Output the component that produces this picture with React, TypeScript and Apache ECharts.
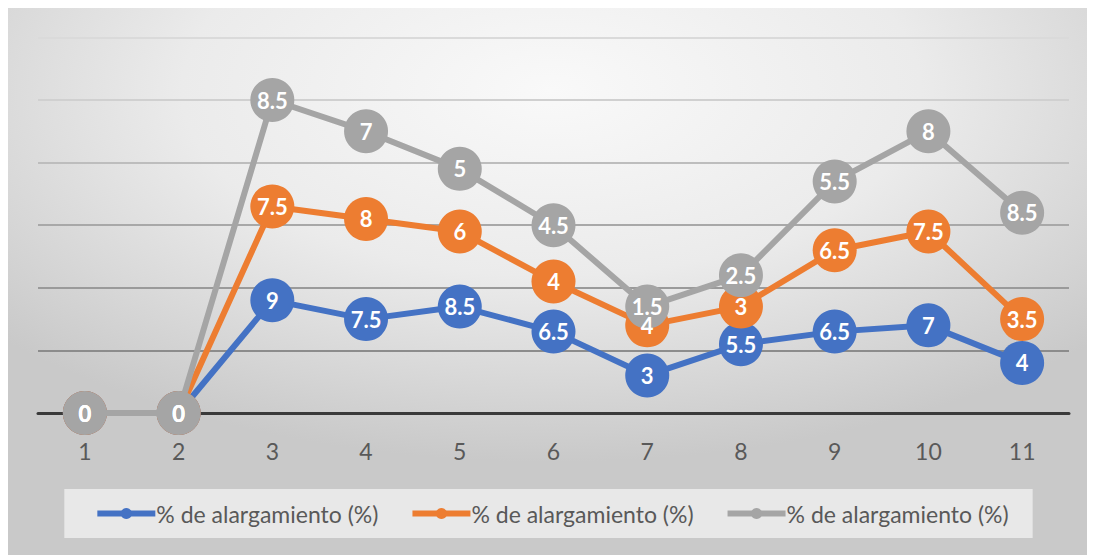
import React, { useEffect, useRef } from "react";
import * as echarts from "echarts";

const categories = ["1", "2", "3", "4", "5", "6", "7", "8", "9", "10", "11"];
const seriesName = "% de alargamiento (%)";
const blueValues = [0, 0, 9, 7.5, 8.5, 6.5, 3, 5.5, 6.5, 7, 4];
const orangeValues = [0, 0, 7.5, 8, 6, 4, 4, 3, 6.5, 7.5, 3.5];
const grayValues = [0, 0, 8.5, 7, 5, 4.5, 1.5, 2.5, 5.5, 8, 8.5];
const colors = ["#4472C4", "#ED7D31", "#A5A5A5"];

export default function App() {
  const ref = useRef<HTMLDivElement>(null);
  useEffect(() => {
    if (!ref.current) return;
    const chart = echarts.init(ref.current, undefined, { renderer: "svg" });
    const all = [blueValues, orangeValues, grayValues];
    const lineSeries = all.map((vals, i) => ({
      name: "s" + i,
      type: "line",
      stack: "total",
      data: vals,
      symbol: "circle",
      symbolSize: 44,
      lineStyle: { color: colors[i], width: 6 },
      itemStyle: { color: colors[i] },
      z: 2 + i,
      label: { show: false },
    }));
    const labelSeries = all.map((vals, i) => ({
      name: "label" + i,
      type: "line",
      stack: "labels",
      data: vals,
      symbol: "circle",
      symbolSize: 2,
      lineStyle: { color: "transparent", width: 0 },
      itemStyle: { color: "transparent" },
      z: 10,
      silent: true,
      label: {
        show: true,
        position: "inside",
        color: "#ffffff",
        fontWeight: "bold",
        fontFamily: "Lato",
        fontSize: 22,
        formatter: (p: any) => String(vals[p.dataIndex]),
      },
      labelLayout: { hideOverlap: false },
    }));
    chart.setOption({
      animation: false,
      backgroundColor: {
        type: "radial",
        x: 0.5,
        y: 0.15,
        r: 0.68,
        colorStops: [
          { offset: 0, color: "#f9f9f9" },
          { offset: 0.5, color: "#ebebeb" },
          { offset: 1, color: "#c9c9c9" },
        ],
      },
      grid: { left: 30, right: 26, top: 29.4, bottom: 142 },
      legend: {
        bottom: 17,
        left: "center",
        itemWidth: 58,
        itemHeight: 14,
        itemGap: 31,
        padding: [13, 24, 13, 30],
        backgroundColor: "rgba(242,242,242,0.75)",
        lineStyle: { width: 6 },
        textStyle: { fontFamily: "Lato", fontSize: 23, color: "#595959", padding: [0, 0, 0, -4] },
        data: ["s0", "s1", "s2"],
        formatter: () => seriesName,
      },
      xAxis: {
        type: "category",
        data: categories,
        boundaryGap: true,
        axisTick: { show: false },
        axisLine: { lineStyle: { color: "#3a3a3a", width: 3 } },
        axisLabel: { fontFamily: "Lato", fontSize: 23, color: "#595959", margin: 26 },
      },
      yAxis: {
        type: "value",
        min: 0,
        max: 30,
        interval: 5,
        axisLabel: { show: false },
        axisLine: { show: false },
        axisTick: { show: false },
        splitLine: {
          lineStyle: {
            width: 2,
            color: ["#3a3a3a", "#8c8c8c", "#9a9a9a", "#a8a8a8", "#bdbdbd", "#d0d0d0", "#dadada"],
          },
        },
      },
      series: [...lineSeries, ...labelSeries],
    });
    return () => chart.dispose();
  }, []);
  return <div ref={ref} style={{ width: 1087, height: 547 }} />;
}
